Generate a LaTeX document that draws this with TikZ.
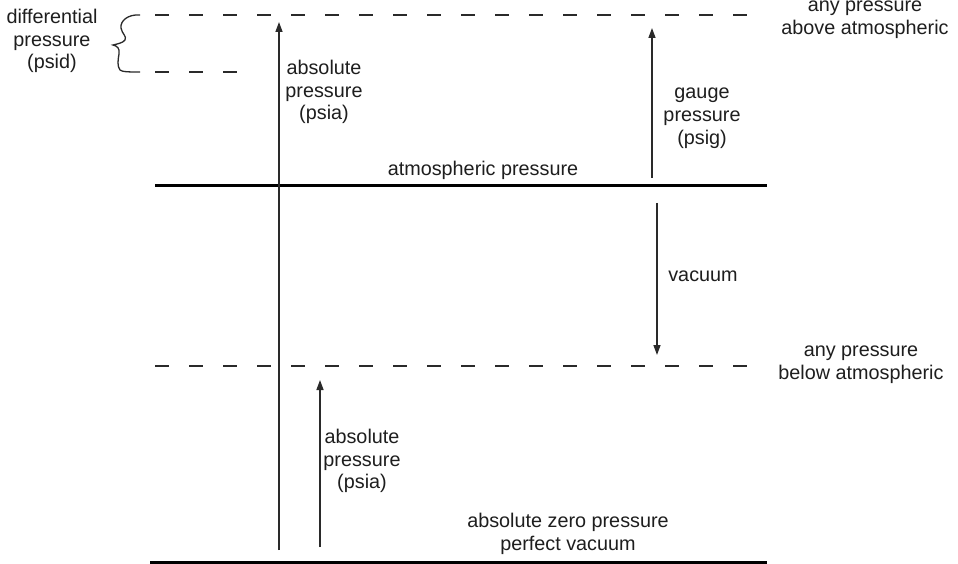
\documentclass[tikz,border=0pt]{standalone}
\usepackage{fontspec}
\setmainfont{Liberation Sans}
\usetikzlibrary{arrows.meta}
\definecolor{ink}{HTML}{1E1E1E}
\definecolor{thin}{HTML}{2A2A2A}
\begin{document}
\begin{tikzpicture}[x=1pt,y=-1pt,
  lbl/.style={text=ink,align=center,inner sep=0pt,font=\fontsize{19.8}{22.8}\selectfont},
  dashline/.style={draw=thin,line width=1.3pt,dash pattern=on 14pt off 20pt},
  solidline/.style={draw=black,line width=3pt},
  arr/.style={draw=thin,line width=1.4pt,-{Triangle[length=10pt,width=7pt]}},
  plain/.style={draw=thin,line width=1.4pt}]
\useasboundingbox[fill=white] (0,0) rectangle (958,564);
% coordinates of lines
\coordinate (topL) at (155,15);
\coordinate (topR) at (767,15);
\coordinate (difL) at (155,72);
\coordinate (difR) at (240,72);
\coordinate (atmL) at (155,186);
\coordinate (atmR) at (767,186);
\coordinate (belL) at (155,366);
\coordinate (belR) at (767,366);
\coordinate (zerL) at (150,562);
\coordinate (zerR) at (767,562);
% arrows
\coordinate (a1s) at (279,550);
\coordinate (a1e) at (279,22);
\coordinate (a2s) at (320,547);
\coordinate (a2e) at (320,380);
\coordinate (gs) at (652,178);
\coordinate (ge) at (652,28);
\coordinate (vs) at (657,203);
\coordinate (ve) at (657,355);
% lines
\draw[dashline] (topL) -- (topR);
\draw[dashline] (difL) -- (difR);
\draw[solidline] (atmL) -- (atmR);
\draw[dashline] (belL) -- (belR);
\draw[solidline] (zerL) -- (zerR);
\draw[arr] (a1s) -- (a1e);
\draw[arr] (a2s) -- (a2e);
\draw[arr] (gs) -- (ge);
\draw[arr] (vs) -- (ve);
% brace
\draw[plain,line width=1.3pt] (140,15) .. controls (128,14) and (120,21) .. (121,28)
  .. controls (122,34) and (127,36) .. (125,40)
  .. controls (123,43) and (117,44) .. (113,45)
  .. controls (117,46) and (120,48) .. (119,54)
  .. controls (118,60) and (117,66) .. (120,70)
  .. controls (122,72) and (130,72) .. (140,72);
% labels
\node[lbl] (dif) at (52,41) {differential\\pressure\\(psid)};
\node[lbl] (absT) at (324,92) {absolute\\pressure\\(psia)};
\node[lbl] (gauge) at (702,118) {gauge\\pressure\\(psig)};
\node[lbl] (atm) at (483,170) {atmospheric pressure};
\node[lbl] (vac) at (703,276) {vacuum};
\node[lbl] (above) at (865,20) {any pressure\\above atmospheric};
\node[lbl] (below) at (861,365) {any pressure\\below atmospheric};
\node[lbl] (absB) at (362,461) {absolute\\pressure\\(psia)};
\node[lbl] (zero) at (568,534) {absolute zero pressure\\perfect vacuum};
\end{tikzpicture}
\end{document}
